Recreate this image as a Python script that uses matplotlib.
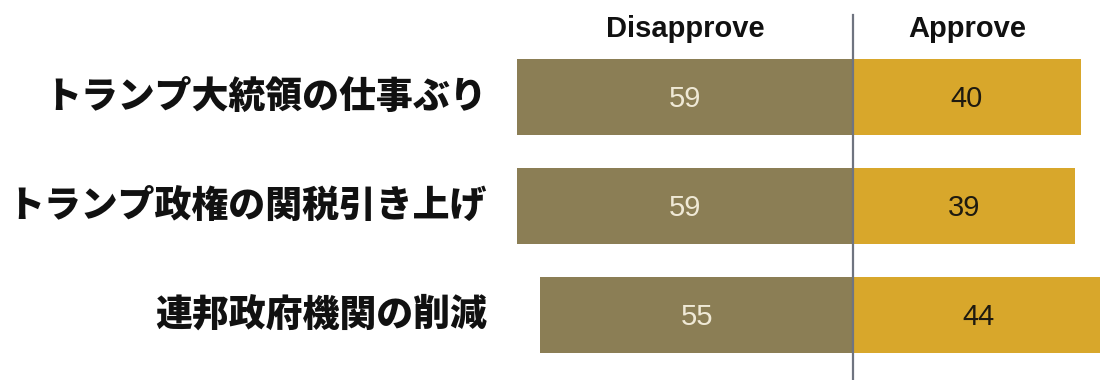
import numpy as np
import matplotlib
matplotlib.use('Agg')
import matplotlib.pyplot as plt

plt.rcParams['font.family'] = ['Noto Sans CJK JP', 'DejaVu Sans']

labels = ['トランプ大統領の仕事ぶり', 'トランプ政権の関税引き上げ', '連邦政府機関の削減']
disapprove = [59, 59, 55]
approve = [40, 39, 44]

c_dis = '#8b7e55'
c_app = '#d8a72b'

fig = plt.figure(figsize=(11, 3.8), dpi=100)
ax = fig.add_axes([0, 0, 1, 1])
y = np.arange(len(labels))
h = 0.69

ax.barh(y, [-v for v in disapprove], height=h, color=c_dis)
ax.barh(y, approve, height=h, color=c_app)

for i in range(len(labels)):
    ax.text(-disapprove[i] / 2, y[i] + 0.02, str(disapprove[i]), ha='center', va='center',
            fontsize=21, color='#efe9d6', family='Liberation Sans')
    ax.text(approve[i] / 2, y[i] + 0.02, str(approve[i]), ha='center', va='center',
            fontsize=21, color='#1e1a10', family='Liberation Sans')
    ax.text(-64.3, y[i], labels[i], ha='right', va='center', fontsize=26.6,
            fontweight='heavy', color='#111111')

# column headers
ax.text(-disapprove[0] / 2, -0.62, 'Disapprove', ha='center', va='center',
        fontsize=21, fontweight='bold', family='Liberation Sans', color='#111111')
ax.text(approve[0] / 2, -0.62, 'Approve', ha='center', va='center',
        fontsize=21, fontweight='bold', family='Liberation Sans', color='#111111')

ax.axvline(0, ymin=0, ymax=0.96, color='#6f7480', lw=1.6)

ax.set_xlim(-149.9, 43.4)
ax.set_ylim(2.596, -0.89)
ax.axis('off')

fig.savefig('out.png', dpi=100, facecolor='white')
